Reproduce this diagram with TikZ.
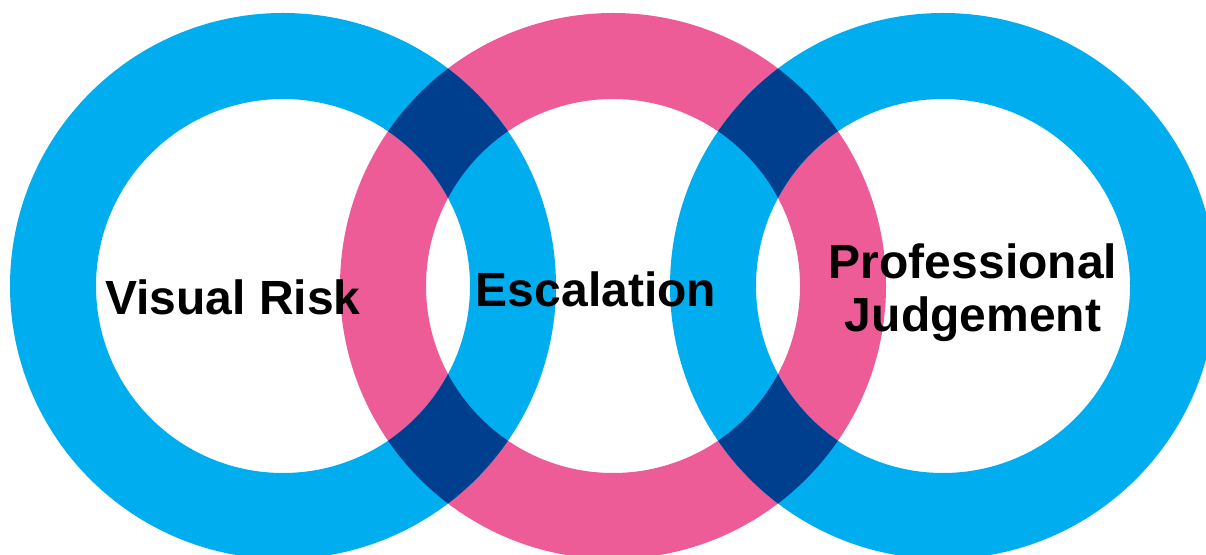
\documentclass[tikz,border=0pt]{standalone}
\usepackage{fontspec}
\setmainfont{Liberation Sans}
\definecolor{ringblue}{HTML}{00AEEF}
\definecolor{ringpink}{HTML}{EE5C98}
\definecolor{ringnavy}{HTML}{003F8E}
\begin{document}
\begin{tikzpicture}[
      x=0.75pt, y=-0.75pt,
      ring/.style={even odd rule},
      lbl/.style={font=\fontsize{36}{39.75}\selectfont\bfseries, inner sep=0pt, align=center},
    ]
      \clip (0,0) rectangle (1206,555);

      % ring centres
      \coordinate (cl) at (283,286);
      \coordinate (cm) at (613,286);
      \coordinate (cr) at (943,286);

      % rings
      \fill[ringpink, ring] (cm) circle[radius=204.75pt] (cm) circle[radius=140.25pt];
      \foreach \c in {cl,cr}
        \fill[ringblue, ring] (\c) circle[radius=204.75pt] (\c) circle[radius=140.25pt];

      % overlaps
      \begin{scope}[ring]
        \clip (cm) circle[radius=204.75pt] (cm) circle[radius=140.25pt];
        \foreach \c in {cl,cr}
          \fill[ringnavy] (\c) circle[radius=204.75pt] (\c) circle[radius=140.25pt];
      \end{scope}

      % labels
      \node[lbl, anchor=base] (vrisk) at (233,315) {Visual Risk};
      \node[lbl, anchor=base] (escal) at (596,307) {Escalation};
      \node[lbl, anchor=base] (profj) at (973,332) {Professional\\Judgement};

    \end{tikzpicture}
\end{document}
